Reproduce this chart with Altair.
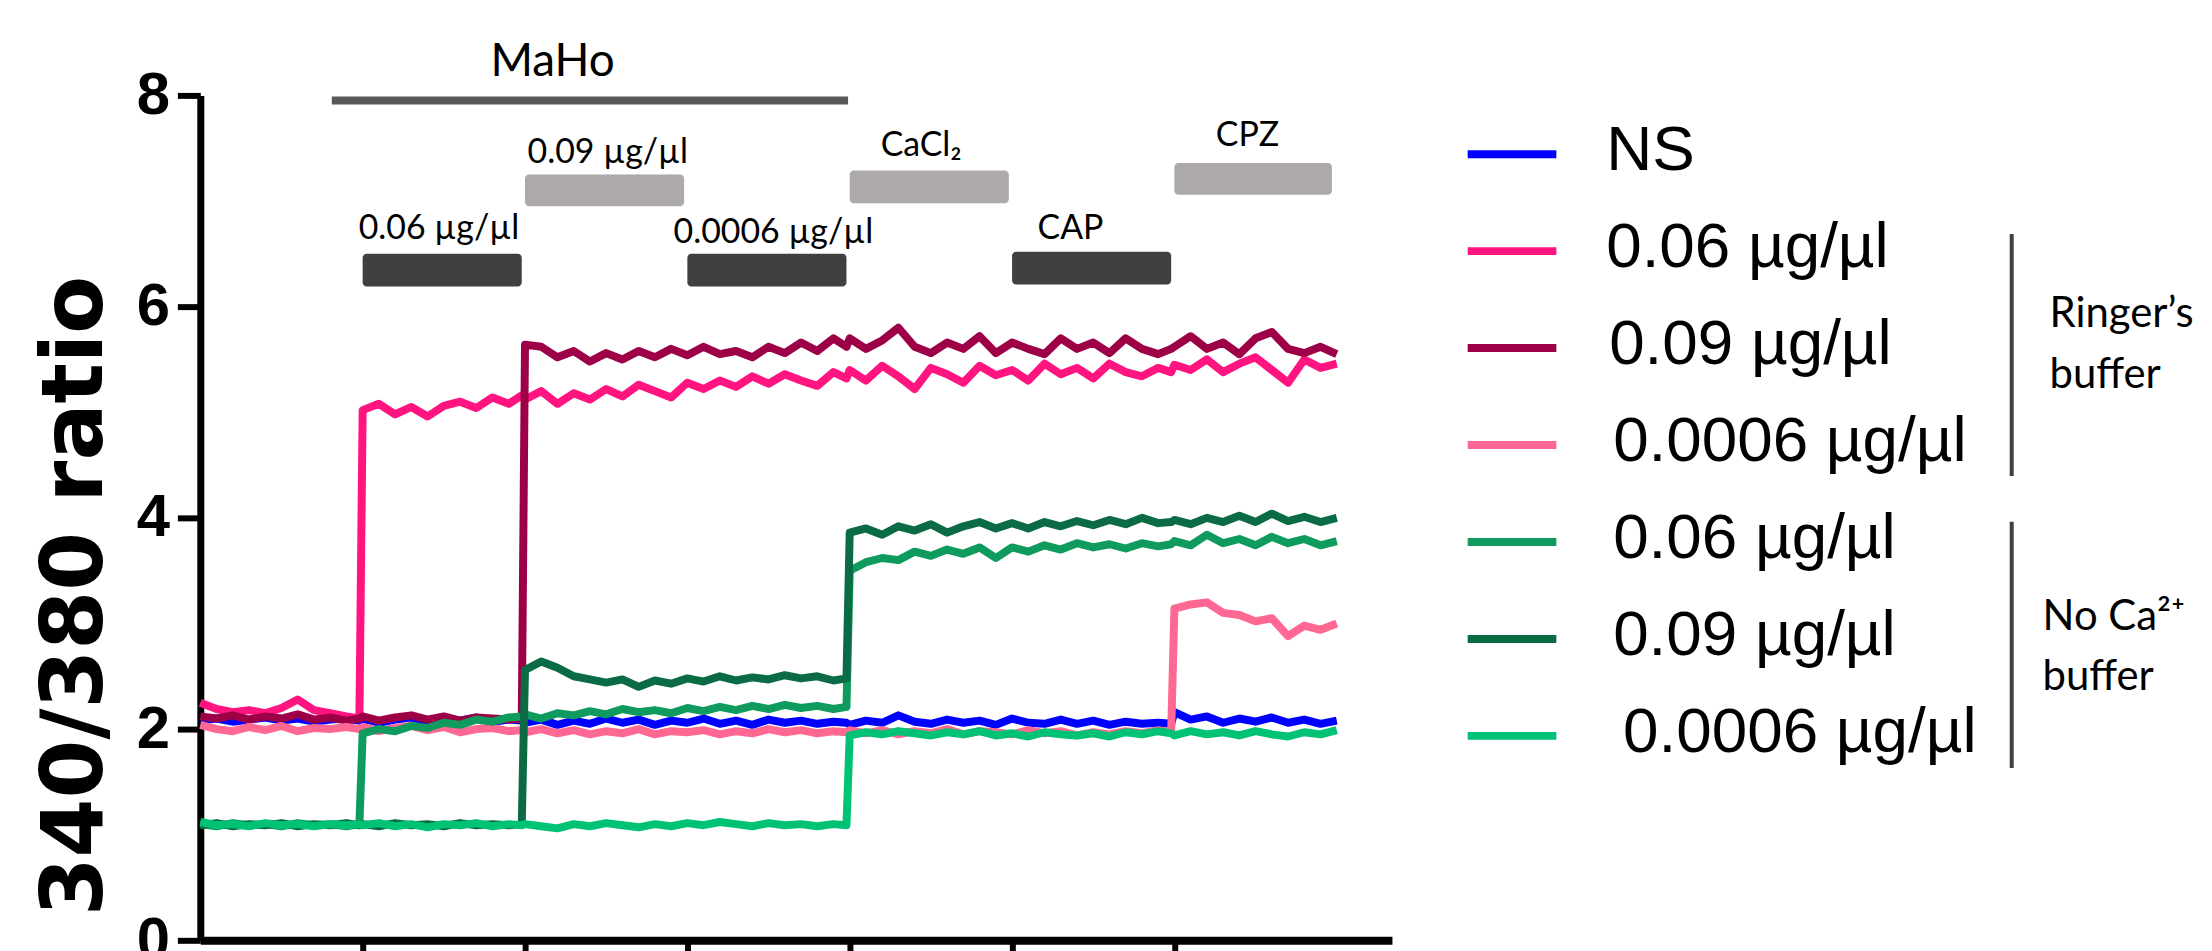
import altair as alt
import pandas as pd

# ---------------- data ----------------
TIME = [0.0, 0.1, 0.2, 0.3, 0.4, 0.5, 0.6, 0.7, 0.8, 0.9,
        0.98,
        1.0, 1.1, 1.2, 1.3, 1.4, 1.5, 1.6, 1.7, 1.8, 1.9,
        1.98,
        2.0, 2.1, 2.2, 2.3, 2.4, 2.5, 2.6, 2.7, 2.8, 2.9,
        3.0, 3.1, 3.2, 3.3, 3.4, 3.5, 3.6, 3.7, 3.8, 3.9,
        3.98,
        4.0, 4.1, 4.2, 4.3, 4.4, 4.5, 4.6, 4.7, 4.8, 4.9,
        5.0, 5.1, 5.2, 5.3, 5.4, 5.5, 5.6, 5.7, 5.8, 5.9,
        5.98,
        6.0, 6.1, 6.2, 6.3, 6.4, 6.5, 6.6, 6.7, 6.8, 6.9, 7.0]

NS = [2.08, 2.10, 2.07, 2.09, 2.11, 2.08, 2.10, 2.07, 2.09, 2.10,
      2.08,
      2.10, 2.06, 2.09, 2.11, 2.07, 2.10, 2.08, 2.11, 2.07, 2.09,
      2.08,
      2.06, 2.09, 2.04, 2.08, 2.05, 2.10, 2.06, 2.09, 2.04, 2.08,
      2.06, 2.10, 2.05, 2.08, 2.04, 2.09, 2.06, 2.08, 2.05, 2.07,
      2.06,
      2.04, 2.08, 2.06, 2.13, 2.07, 2.05, 2.09, 2.06, 2.08, 2.04,
      2.10, 2.06, 2.05, 2.09, 2.05, 2.08, 2.04, 2.07, 2.05, 2.06,
      2.05,
      2.16, 2.09, 2.12, 2.06, 2.10, 2.07, 2.11, 2.06, 2.09, 2.05, 2.08]

RINGER_006 = [2.25, 2.19, 2.16, 2.18, 2.15, 2.20, 2.28, 2.18, 2.15, 2.12,
              2.10,
              5.02, 5.08, 4.98, 5.05, 4.96, 5.06, 5.10, 5.04, 5.14, 5.08,
              5.16,
              5.12, 5.20, 5.08, 5.18, 5.12, 5.22, 5.15, 5.26, 5.20, 5.14,
              5.28, 5.22, 5.30, 5.24, 5.34, 5.27, 5.36, 5.30, 5.25, 5.38,
              5.32,
              5.40, 5.30, 5.44, 5.34, 5.22, 5.42, 5.36, 5.28, 5.44, 5.35,
              5.40, 5.30, 5.46, 5.36, 5.42, 5.32, 5.46, 5.38, 5.34, 5.42,
              5.38,
              5.45, 5.40, 5.50, 5.38, 5.46, 5.52, 5.40, 5.28, 5.50, 5.42, 5.46]

RINGER_009 = [2.12, 2.10, 2.13, 2.09, 2.12, 2.10, 2.14, 2.09, 2.11, 2.08,
              2.10,
              2.12, 2.08, 2.11, 2.13, 2.09, 2.12, 2.08, 2.11, 2.10, 2.09,
              2.10,
              5.64, 5.62, 5.52, 5.58, 5.48, 5.56, 5.50, 5.58, 5.52, 5.60,
              5.54, 5.62, 5.55, 5.58, 5.52, 5.62, 5.56, 5.66, 5.58, 5.70,
              5.62,
              5.70, 5.60, 5.68, 5.80, 5.62, 5.56, 5.66, 5.60, 5.72, 5.56,
              5.66, 5.60, 5.55, 5.70, 5.60, 5.66, 5.56, 5.70, 5.60, 5.55,
              5.60,
              5.62, 5.72, 5.60, 5.66, 5.55, 5.70, 5.76, 5.60, 5.56, 5.62, 5.55]

RINGER_00006 = [2.04, 2.00, 1.98, 2.02, 1.99, 2.03, 1.98, 2.01, 2.00, 2.02,
                2.00,
                2.02, 1.98, 2.01, 2.03, 1.99, 2.02, 1.97, 2.00, 2.01, 1.98,
                1.99,
                1.97, 2.00, 1.96, 1.99, 1.95, 1.98, 1.96, 2.00, 1.95, 1.98,
                1.97, 1.99, 1.95, 1.98, 1.96, 2.00, 1.97, 1.99, 1.96, 1.98,
                1.97,
                1.99, 1.96, 1.99, 1.95, 1.98, 1.96, 2.00, 1.95, 1.98, 1.97,
                1.95, 1.99, 1.96, 1.98, 1.94, 1.97, 1.95, 1.98, 1.96, 1.99,
                1.97,
                3.14, 3.18, 3.20, 3.10, 3.08, 3.02, 3.05, 2.88, 2.98, 2.94, 3.00]

NOCA_006 = [1.10, 1.08, 1.11, 1.09, 1.10, 1.08, 1.11, 1.09, 1.10, 1.08,
            1.10,
            1.96, 2.00, 1.98, 2.03, 2.01, 2.06, 2.04, 2.09, 2.07, 2.11,
            2.12,
            2.14, 2.10, 2.15, 2.13, 2.17, 2.14, 2.19, 2.16, 2.18, 2.15,
            2.20, 2.17, 2.21, 2.18, 2.22, 2.19, 2.23, 2.20, 2.22, 2.19,
            2.21,
            3.50, 3.58, 3.62, 3.60, 3.68, 3.64, 3.70, 3.66, 3.72, 3.62,
            3.72, 3.68, 3.74, 3.70, 3.76, 3.72, 3.75, 3.71, 3.76, 3.73,
            3.75,
            3.78, 3.74, 3.84, 3.76, 3.80, 3.74, 3.82, 3.76, 3.80, 3.74, 3.78]

NOCA_009 = [1.09, 1.11, 1.08, 1.10, 1.09, 1.11, 1.08, 1.10, 1.09, 1.11,
            1.09,
            1.10, 1.08, 1.11, 1.09, 1.10, 1.08, 1.11, 1.09, 1.10, 1.09,
            1.10,
            2.56, 2.64, 2.58, 2.50, 2.47, 2.44, 2.47, 2.40, 2.46, 2.43,
            2.48, 2.45, 2.50, 2.46, 2.49, 2.47, 2.51, 2.48, 2.50, 2.46,
            2.48,
            3.86, 3.90, 3.84, 3.92, 3.88, 3.94, 3.86, 3.92, 3.96, 3.90,
            3.95, 3.90, 3.96, 3.92, 3.97, 3.93, 3.98, 3.94, 4.00, 3.95,
            3.96,
            3.98, 3.94, 4.00, 3.96, 4.02, 3.96, 4.04, 3.97, 4.01, 3.96, 4.00]

NOCA_00006 = [1.12, 1.09, 1.10, 1.08, 1.11, 1.09, 1.10, 1.08, 1.10, 1.09,
              1.10,
              1.09, 1.11, 1.08, 1.10, 1.07, 1.10, 1.09, 1.11, 1.08, 1.10,
              1.09,
              1.10, 1.08, 1.06, 1.10, 1.08, 1.11, 1.09, 1.07, 1.10, 1.08,
              1.11, 1.09, 1.12, 1.10, 1.08, 1.11, 1.09, 1.10, 1.08, 1.10,
              1.09,
              1.94, 1.97, 1.95, 1.98, 1.96, 1.94, 1.97, 1.95, 1.98, 1.94,
              1.96, 1.93, 1.97, 1.95, 1.94, 1.96, 1.93, 1.97, 1.95, 1.98,
              1.96,
              1.94, 1.98, 1.95, 1.97, 1.94, 1.98, 1.95, 1.93, 1.97, 1.95, 1.99]

SERIES_KEYS = ["NS", "R006", "R009", "R00006", "N006", "N009", "N00006"]
SERIES_VALUES = [NS, RINGER_006, RINGER_009, RINGER_00006, NOCA_006, NOCA_009, NOCA_00006]
SERIES_LABELS = ["NS", "0.06 µg/µl", "0.09 µg/µl", "0.0006 µg/µl",
                 "0.06 µg/µl", "0.09 µg/µl", "0.0006 µg/µl"]
SERIES_COLORS = ["#0000FF", "#FF1480", "#9E0048", "#FF6893",
                 "#0F9A5E", "#0A6B45", "#00C274"]

# treatment bars (time intervals) and their labels
TREAT_START = [1.0, 2.0, 3.0, 4.0, 5.0, 6.0]
TREAT_END = [1.98, 2.98, 3.98, 4.98, 5.98, 6.97]
TREAT_LABEL = ["0.06 µg/µl", "0.09 µg/µl", "0.0006 µg/µl", "CaCl₂", "CAP", "CPZ"]
TREAT_KIND = ["dark", "light", "dark", "light", "dark", "light"]
MAHO_START, MAHO_END = 0.81, 3.99

# ---------------- layout (annotation placement) ----------------
TREAT_Y0 = [6.19, 6.95, 6.19, 6.98, 6.21, 7.06]
TREAT_Y1 = [6.50, 7.25, 6.50, 7.29, 6.52, 7.36]
TREAT_LX = [1.47, 2.51, 3.53, 4.44, 5.36, 6.45]
TREAT_LY = [6.64, 7.36, 6.60, 7.43, 6.64, 7.52]

for v in SERIES_VALUES:
    assert len(v) == len(TIME)

rows = []
for key, vals in zip(SERIES_KEYS, SERIES_VALUES):
    for t, v in zip(TIME, vals):
        rows.append({"series": key, "t": t, "ratio": v})
df = pd.DataFrame(rows)

W, H = 1196, 848
xs = alt.Scale(domain=[0, 7.34], nice=False, zero=False)
ys = alt.Scale(domain=[0, 8], nice=False, zero=False)

AX = alt.Axis(values=[1, 2, 3, 4, 5, 6], labels=False, title=None, grid=False,
              tickSize=15, tickWidth=6, tickColor="black",
              domainWidth=8, domainColor="black")
AY = alt.Axis(values=[0, 2, 4, 6, 8], grid=False, format="d",
              labelFont="Liberation Sans Narrow, Liberation Sans, Arial",
              labelFontWeight="bold", labelFontSize=60, labelColor="black",
              labelPadding=8, tickSize=23, tickWidth=6, tickColor="black",
              domainWidth=7, domainColor="black",
              title="340/380 ratio", titleFont="DejaVu Sans", titleFontSize=85,
              titleFontWeight="bold", titleColor="black", titleAngle=270,
              titleAlign="center", titleBaseline="alphabetic",
              titleX=-99, titleY=502)

layers = []

# treatment rectangles
treat_df = pd.DataFrame({"x0": TREAT_START, "x1": TREAT_END, "y0": TREAT_Y0, "y1": TREAT_Y1,
                         "kind": TREAT_KIND, "label": TREAT_LABEL,
                         "lx": TREAT_LX, "ly": TREAT_LY})
layers.append(
    alt.Chart(treat_df).mark_rect(cornerRadius=4).encode(
        x=alt.X("x0:Q", scale=xs, axis=AX), x2="x1:Q",
        y=alt.Y("y0:Q", scale=ys, axis=AY), y2="y1:Q",
        color=alt.Color("kind:N", scale=alt.Scale(domain=["dark", "light"],
                                                   range=["#404040", "#ADA9A8"]),
                        legend=None)))
layers.append(
    alt.Chart(treat_df).mark_text(font="Lato", fontSize=34, color="black",
                                  align="center", baseline="alphabetic").encode(
        x=alt.X("lx:Q", scale=xs, axis=AX),
        y=alt.Y("ly:Q", scale=ys, axis=AY),
        text="label:N"))

maho_df = pd.DataFrame({"x0": [MAHO_START], "x1": [MAHO_END], "y0": [7.915], "y1": [7.99],
                        "label": ["MaHo"], "lx": [2.17], "ly": [8.18]})
layers.append(
    alt.Chart(maho_df).mark_rect(color="#595959").encode(
        x=alt.X("x0:Q", scale=xs, axis=AX), x2="x1:Q",
        y=alt.Y("y0:Q", scale=ys, axis=AY), y2="y1:Q"))
layers.append(
    alt.Chart(maho_df).mark_text(font="Lato", fontSize=46, color="black",
                                 align="center", baseline="alphabetic").encode(
        x=alt.X("lx:Q", scale=xs, axis=AX),
        y=alt.Y("ly:Q", scale=ys, axis=AY),
        text="label:N"))

# data traces, drawn in legend order
for key, color in zip(SERIES_KEYS, SERIES_COLORS):
    layers.append(
        alt.Chart(df[df.series == key]).mark_line(
            color=color, strokeWidth=8, strokeJoin="round", strokeCap="butt").encode(
            x=alt.X("t:Q", scale=xs, axis=AX),
            y=alt.Y("ratio:Q", scale=ys, axis=AY),
            order="t:Q"))

# custom legend (pixel positions relative to plot origin)
n = len(SERIES_KEYS)
row_y = [59 + i * 97.3 for i in range(n)]
text_x = [1411, 1411, 1414, 1418, 1418, 1418, 1428]
leg_df = pd.DataFrame({"label": SERIES_LABELS, "color": SERIES_COLORS,
                       "sx0": [1272] * n, "sx1": [1361] * n, "sy": row_y,
                       "tx": text_x, "ty": [y + 16 for y in row_y]})
layers.append(
    alt.Chart(leg_df).mark_rule(strokeWidth=8).encode(
        x=alt.X("sx0:Q", scale=None), x2="sx1:Q",
        y=alt.Y("sy:Q", scale=None),
        color=alt.Color("color:N", scale=None)))
layers.append(
    alt.Chart(leg_df).mark_text(font="Liberation Sans", fontSize=64, color="black",
                                align="left", baseline="alphabetic").encode(
        x=alt.X("tx:Q", scale=None), y=alt.Y("ty:Q", scale=None), text="label:N"))

# group brackets
br_df = pd.DataFrame({"x": [1818, 1818], "y0": [139, 428], "y1": [382, 675]})
layers.append(
    alt.Chart(br_df).mark_rule(strokeWidth=4, color="#404040").encode(
        x=alt.X("x:Q", scale=None), y=alt.Y("y0:Q", scale=None), y2="y1:Q"))
grp_df = pd.DataFrame({"label": ["Ringer’s", "buffer", "No Ca²⁺", "buffer"],
                       "x": [1856, 1856, 1849, 1849],
                       "y": [232, 294, 537, 597]})
layers.append(
    alt.Chart(grp_df).mark_text(font="Lato", fontSize=42, color="black",
                                align="left", baseline="alphabetic").encode(
        x=alt.X("x:Q", scale=None), y=alt.Y("y:Q", scale=None), text="label:N"))

chart = alt.layer(*layers).properties(
    width=W, height=H,
    autosize=alt.AutoSizeParams(type="none"),
    padding={"left": 193, "top": 86, "right": 815, "bottom": 9},
    background="white",
).configure_view(stroke=None)

chart.save("out.html", embed_options={"renderer": "svg", "actions": False})
